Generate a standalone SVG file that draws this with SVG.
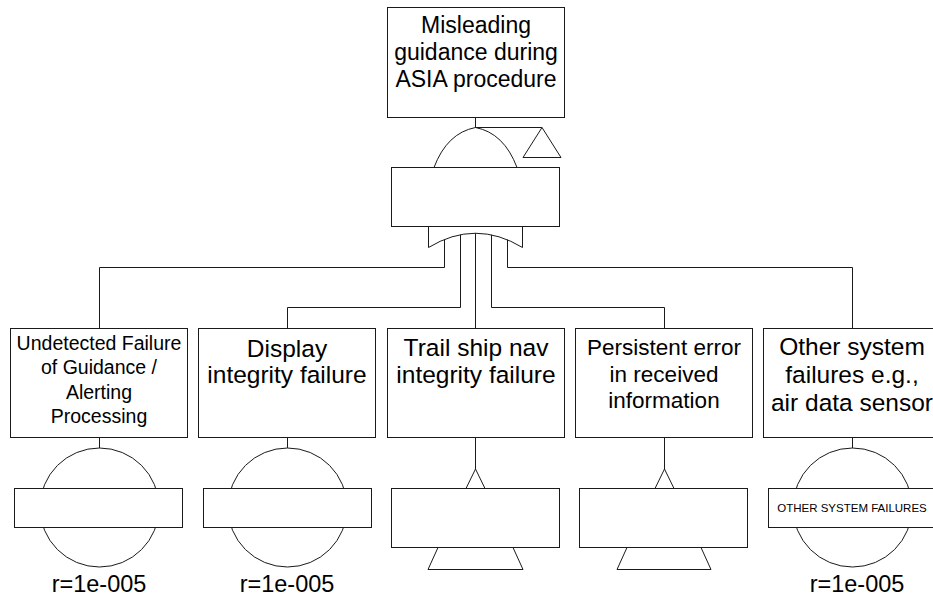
<svg xmlns="http://www.w3.org/2000/svg" width="933" height="597" viewBox="0 0 933 597">
  <style>
    .shape { fill: #ffffff; stroke: #1a1a1a; stroke-width: 1; }
    .open { fill: none; stroke: #1a1a1a; stroke-width: 1; }
    .wire { fill: none; stroke: #1a1a1a; stroke-width: 1; }
    text { font-family: "Liberation Sans", Arial, sans-serif; fill: #000000; text-anchor: middle; }
    .t23 { font-size: 23px; }
    .t24 { font-size: 24.5px; }
    .t22 { font-size: 22.5px; }
    .t19 { font-size: 19.5px; }
    .rate { font-size: 23.5px; }
    .small { font-size: 11.5px; }
  </style>

  <!-- connectors from the OR gate down to the five inputs -->
  <g id="connectors">
    <path class="wire" d="M475.5,117.5 V127.5 H542"/>
    <path class="wire" d="M444.5,239.5 V267.5 H99.5 V328.5"/>
    <path class="wire" d="M460.5,234.7 V307.5 H287.5 V328.5"/>
    <path class="wire" d="M475.5,233.2 V328.5"/>
    <path class="wire" d="M491.5,234.7 V307.5 H664.5 V328.5"/>
    <path class="wire" d="M507.5,239.5 V267.5 H852.5 V328.5"/>
  </g>

  <!-- top event -->
  <g id="top-event">
    <rect class="shape" x="387.5" y="7.5" width="177" height="110"/>
    <text class="t23" x="476" y="33">Misleading</text>
    <text class="t23" x="476" y="60">guidance during</text>
    <text class="t23" x="476" y="87">ASIA procedure</text>
  </g>

  <!-- OR gate with its label box and transfer triangle -->
  <g id="gate-or">
    <path class="open" d="M434,167.5 Q447,133 475.5,127.5 Q504,133 517,167.5"/>
    <path class="open" d="M428.5,227 V247.5 Q475.5,219 522.5,247.5 V227"/>
    <rect class="shape" x="391.5" y="167.5" width="168" height="59"/>
    <polygon class="shape" points="542,127.5 523,157.5 561,157.5"/>
  </g>

  <!-- input 1: basic event -->
  <g id="event-guidance">
    <rect class="shape" x="10.5" y="328.5" width="177" height="109"/>
    <text class="t19" x="99" y="350">Undetected Failure</text>
    <text class="t19" x="99" y="374">of Guidance /</text>
    <text class="t19" x="99" y="398.5">Alerting</text>
    <text class="t19" x="99" y="423">Processing</text>
    <line class="wire" x1="99.5" y1="437.5" x2="99.5" y2="448"/>
    <circle class="shape" cx="99.5" cy="507.5" r="59.5"/>
    <rect class="shape" x="14.5" y="488.5" width="168" height="39"/>
    <text class="rate" x="99" y="592">r=1e-005</text>
  </g>

  <!-- input 2: basic event -->
  <g id="event-display">
    <rect class="shape" x="198.5" y="328.5" width="177" height="109"/>
    <text class="t24" x="287" y="357">Display</text>
    <text class="t24" x="287" y="383">integrity failure</text>
    <line class="wire" x1="287.5" y1="437.5" x2="287.5" y2="448"/>
    <circle class="shape" cx="287.5" cy="507.5" r="59.5"/>
    <rect class="shape" x="203.5" y="488.5" width="168" height="39"/>
    <text class="rate" x="287" y="592">r=1e-005</text>
  </g>

  <!-- input 3: transferred subtree -->
  <g id="event-trail-ship">
    <rect class="shape" x="387.5" y="328.5" width="177" height="109"/>
    <text class="t24" x="476" y="356">Trail ship nav</text>
    <text class="t24" x="476" y="383">integrity failure</text>
    <polyline class="open" points="475.5,437.5 475.5,469 466,488.5 485,488.5 475.5,469"/>
    <rect class="shape" x="391.5" y="488.5" width="168" height="59"/>
    <polyline class="open" points="438,547.5 428,569.5 523,569.5 513,547.5"/>
  </g>

  <!-- input 4: transferred subtree -->
  <g id="event-received">
    <rect class="shape" x="575.5" y="328.5" width="177" height="109"/>
    <text class="t22" x="664" y="355">Persistent error</text>
    <text class="t22" x="664" y="382">in received</text>
    <text class="t22" x="664" y="408">information</text>
    <polyline class="open" points="664.5,437.5 664.5,469 655,488.5 674,488.5 664.5,469"/>
    <rect class="shape" x="579.5" y="488.5" width="168" height="59"/>
    <polyline class="open" points="627,547.5 617,569.5 711,569.5 701,547.5"/>
  </g>

  <!-- input 5: basic event -->
  <g id="event-other">
    <rect class="shape" x="763.5" y="328.5" width="177" height="109"/>
    <text class="t24" x="852" y="355">Other system</text>
    <text class="t24" x="852" y="383">failures e.g.,</text>
    <text class="t24" x="852" y="411">air data sensor</text>
    <line class="wire" x1="852.5" y1="437.5" x2="852.5" y2="448"/>
    <circle class="shape" cx="852.5" cy="507.5" r="59.5"/>
    <rect class="shape" x="768.5" y="488.5" width="168" height="39"/>
    <text class="small" x="852" y="512">OTHER SYSTEM FAILURES</text>
    <text class="rate" x="857" y="592">r=1e-005</text>
  </g>
</svg>
